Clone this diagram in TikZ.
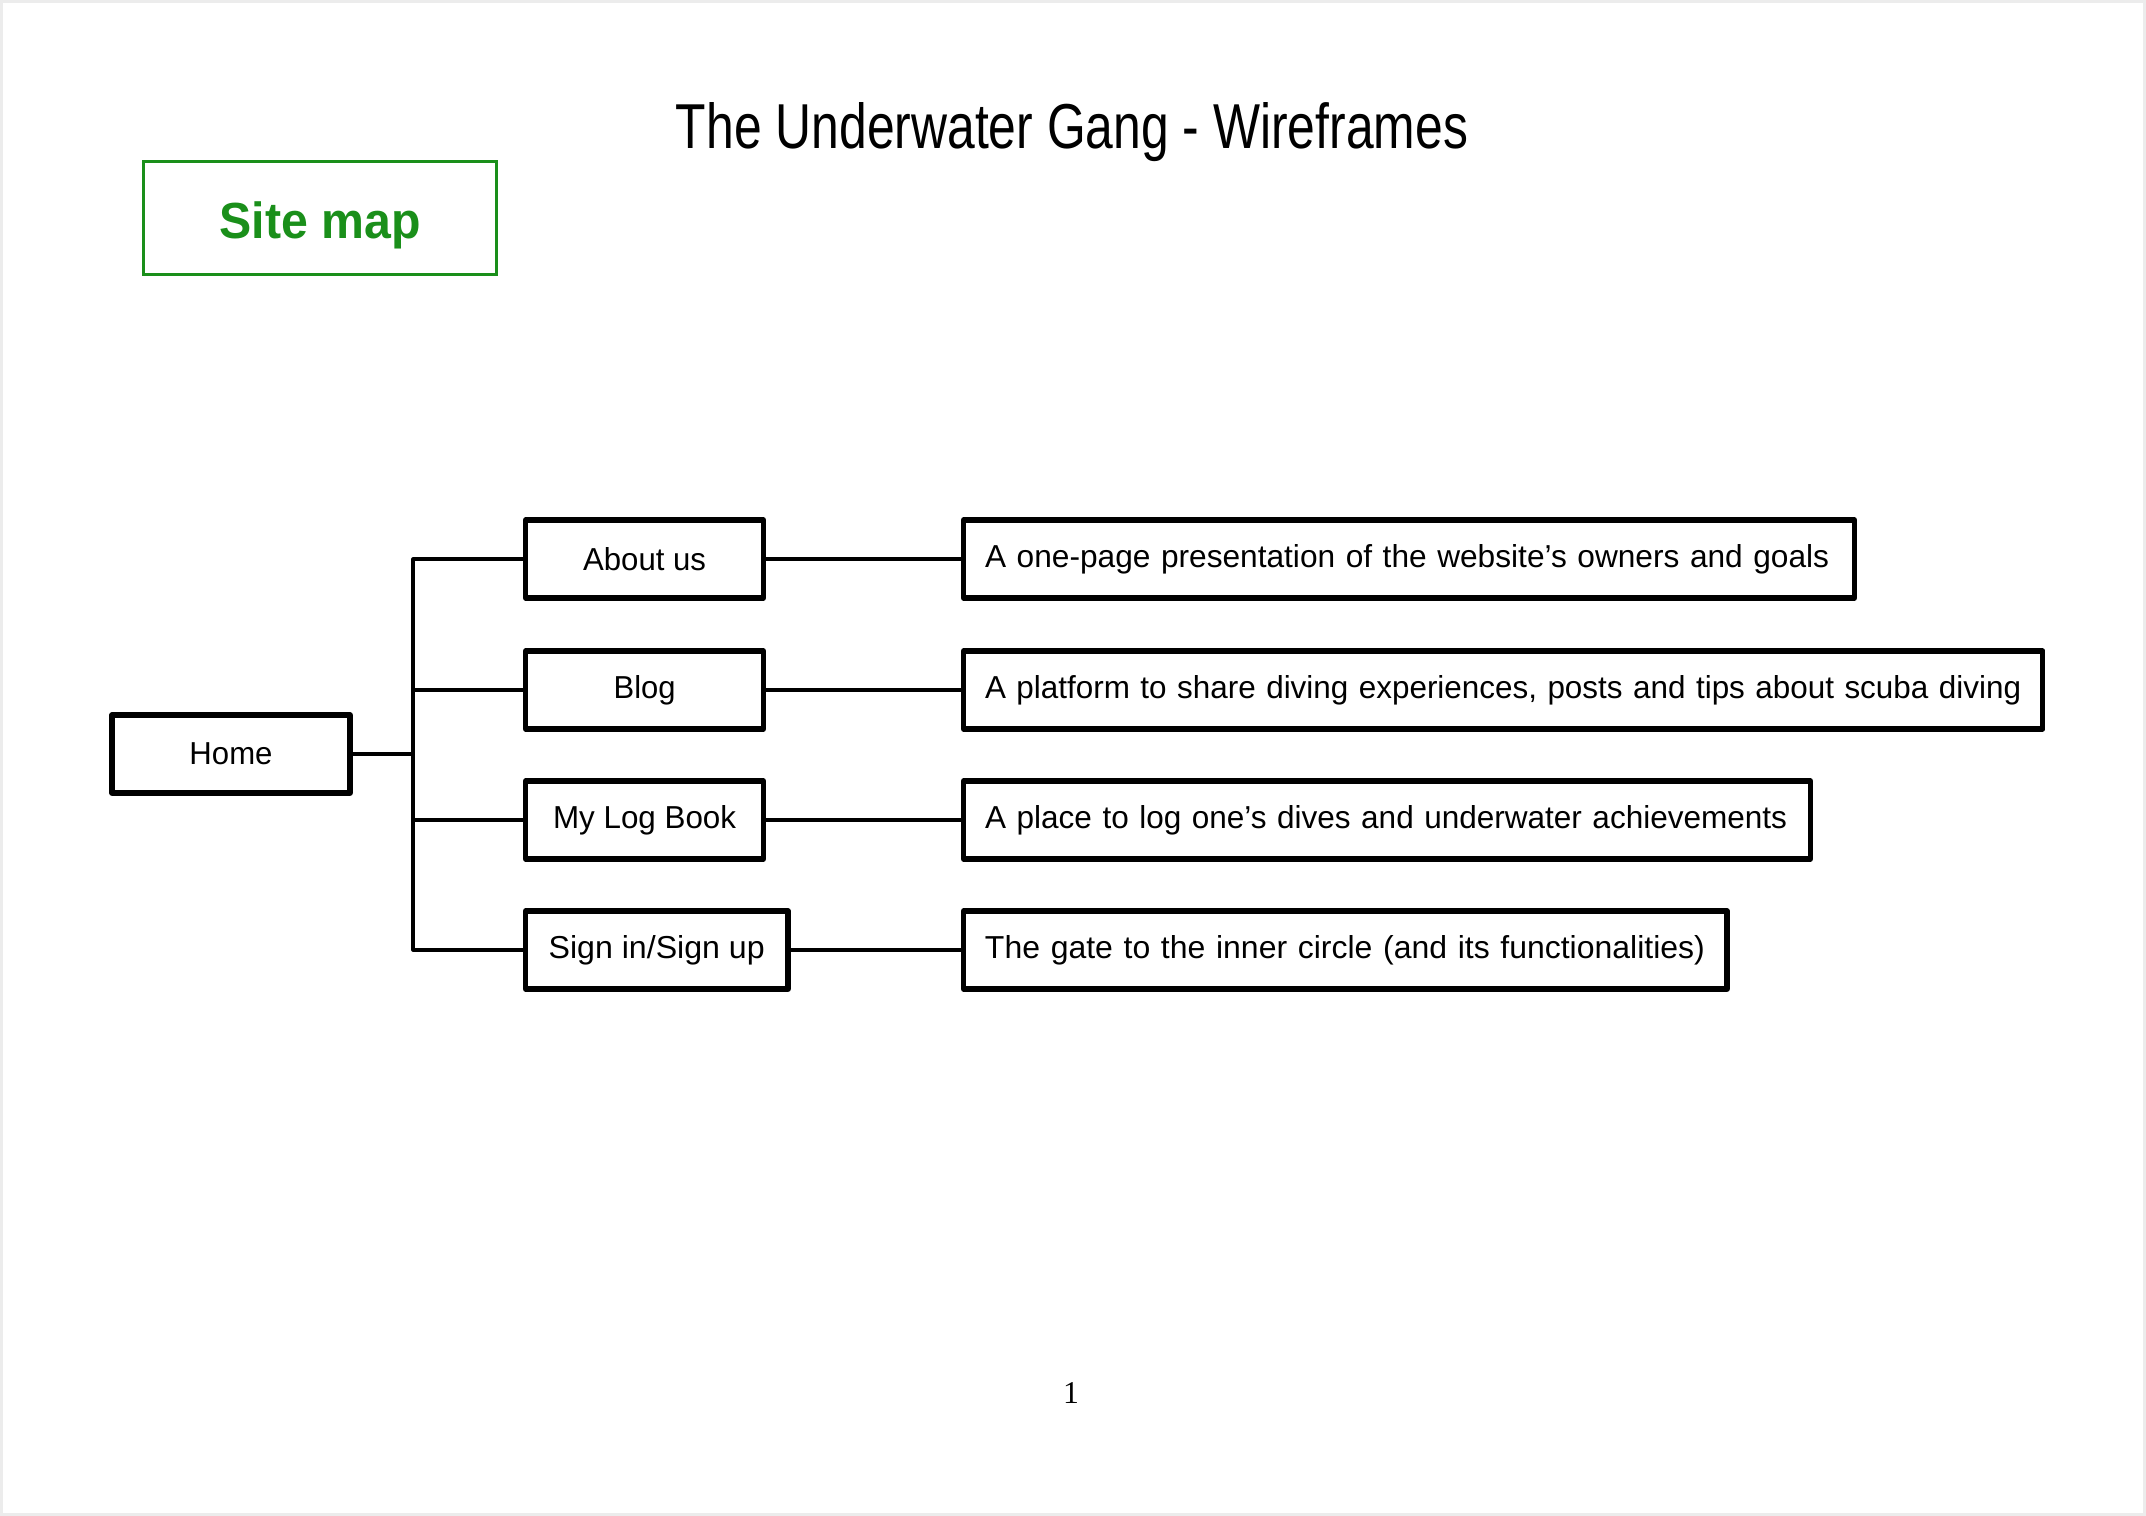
\documentclass[tikz,border=0pt]{standalone}
\usepackage{fontspec}
\setmainfont{Liberation Sans}
\newfontfamily\numfont{Liberation Serif}
\usepackage{graphicx}
\newcommand\fitw[2]{\resizebox{#1}{\height}{#2}}
\definecolor{smgreen}{RGB}{26,143,26}
\definecolor{pageedge}{RGB}{236,236,236}
\begin{document}
\begin{tikzpicture}[x=0.3938pt,y=-0.3938pt,
  boxline/.style={draw=black,line width=2pt,line join=round},
  navbox/.style={boxline,minimum width=93.7pt,minimum height=30.7pt,inner sep=0pt,font=\fontsize{12.5}{14}\selectfont},
  descbox/.style={boxline,minimum height=30.7pt,inner xsep=8.5pt,inner ysep=0pt,align=left,font=\fontsize{12.5}{14}\selectfont},
  link/.style={line width=1.2pt,draw=black}]
\useasboundingbox (0,0) rectangle (2146,1516);
\draw[pageedge,line width=1.2pt] (1.5,1.5) rectangle (2144.5,1514.5);

% title
\node (title) at (1072,132) {\fontsize{25}{30}\selectfont\fitw{311.9pt}{The Underwater Gang - Wireframes}};

% site map tag
\node[draw=smgreen,line width=0.9pt,minimum width=139.1pt,inner sep=0pt,text height=30.2pt,text depth=14.3pt,text=smgreen,font=\bfseries\fontsize{20}{23}\selectfont] (sitemap) at (320,218) {\fitw{79.2pt}{Site map}};

% home and sections
\node[navbox] (home) at (231,754) {\fitw{32.7pt}{Home}};
\node[navbox] (about) at (644.6,559) {\fitw{48.4pt}{About us}};
\node[navbox] (blog) at (644.6,690) {\fitw{24.4pt}{Blog}};
\node[navbox] (logbook) at (644.6,820) {\fitw{72.1pt}{My Log Book}};
\node[navbox,minimum width=103.4pt] (signin) at (656.7,950) {\fitw{85.1pt}{Sign in/Sign up}};

% descriptions
\node[descbox,text width=333.9pt] (d1) at (1409,559) {\fitw{332.4pt}{A one-page presentation of the website’s owners and goals}};
\node[descbox,text width=408.1pt] (d2) at (1503.2,690) {\fitw{408pt}{A platform to share diving experiences, posts and tips about scuba diving}};
\node[descbox,text width=316.5pt] (d3) at (1387,820) {\fitw{315.8pt}{A place to log one’s dives and underwater achievements}};
\node[descbox,text width=283.7pt] (d4) at (1345.2,950) {\fitw{283.5pt}{The gate to the inner circle (and its functionalities)}};

% connectors
\coordinate (junction) at (413,754);
\draw[link] (home.east) -- (junction);
\draw[link,line join=round] (about.west) -- (about.west -| junction) -- (signin.west -| junction) -- (signin.west);
\draw[link] (blog.west) -- (blog.west -| junction);
\draw[link] (logbook.west) -- (logbook.west -| junction);
\draw[link] (about.east) -- (d1.west);
\draw[link] (blog.east) -- (d2.west);
\draw[link] (logbook.east) -- (d3.west);
\draw[link] (signin.east) -- (d4.west);

% page number
\node (pagenum) at (1071,1393) {\numfont\fontsize{12.5}{14}\selectfont 1};
\end{tikzpicture}
\end{document}
